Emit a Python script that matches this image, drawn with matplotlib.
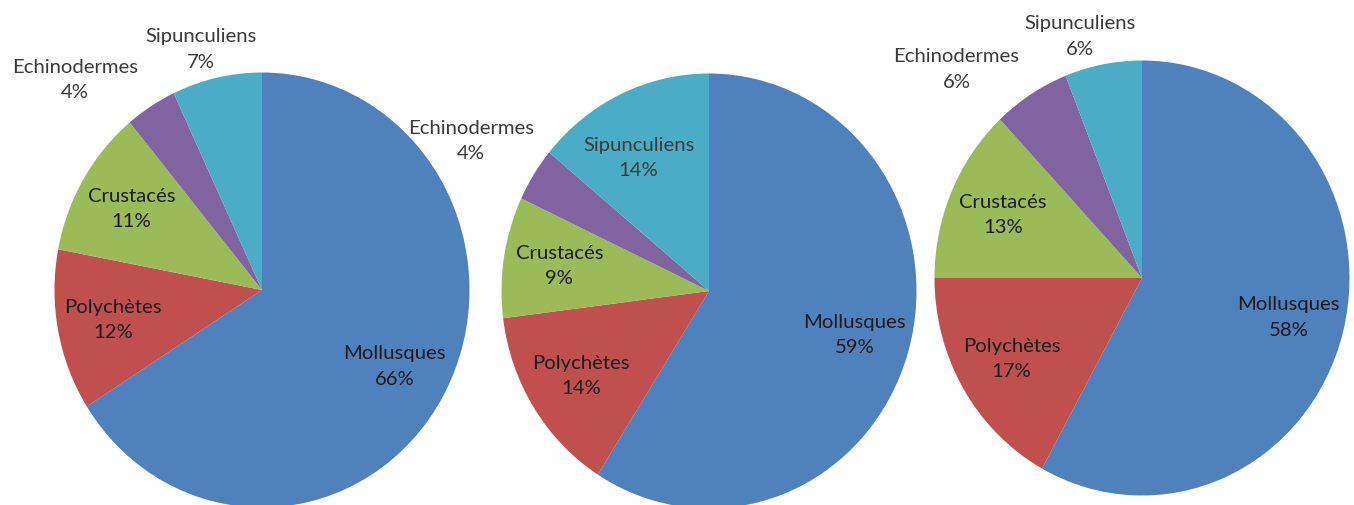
import numpy as np
import matplotlib.pyplot as plt

plt.rcParams['font.family'] = ['Lato', 'DejaVu Sans']

groups = ['Mollusques', 'Polychètes', 'Crustacés', 'Echinodermes', 'Sipunculiens']
colors = ['#4F81BD', '#C0504D', '#9BBB59', '#8064A2', '#4BACC6']

pie_a = [66, 12, 11, 4, 7]
pie_b = [59, 14, 9, 4, 14]
pie_c = [58, 17, 13, 6, 6]

W, H = 1354, 505
# pie boxes in pixels: centre x, centre y (from top), radius x, radius y
boxes = [(262, 290, 207.5, 217.5),
         (709, 291, 207.5, 217.5),
         (1142, 278, 207.5, 217.5)]

# label placement: (angle in degrees, distance from centre); None -> mid-angle at 0.73
spots = [
    [None, None, None, (133, 1.32), (105, 1.145)],
    [None, None, None, (149, 1.34), (119, 0.70)],
    [None, None, None, (133, 1.31), (105, 1.15)],
]

fig = plt.figure(figsize=(W / 100, H / 100), dpi=100)

for vals, (cx, cy, rx, ry), spot in zip([pie_a, pie_b, pie_c], boxes, spots):
    ax = fig.add_axes([(cx - rx) / W, (H - cy - ry) / H, 2 * rx / W, 2 * ry / H])
    ax.pie(vals, colors=colors, startangle=90, counterclock=False,
           wedgeprops=dict(linewidth=0))
    ax.set_aspect('auto')
    ax.set_xlim(-1, 1)
    ax.set_ylim(-1, 1)
    ax.axis('off')

    cum = np.cumsum([0] + vals[:-1])
    for i, v in enumerate(vals):
        if spot[i] is None:
            ang = 90 - (cum[i] + v / 2) * 3.6
            dist = 0.73
            col = '#1a1a1a'
        else:
            ang, dist = spot[i]
            col = '#3a3a3a'
        a = np.deg2rad(ang)
        ax.text(dist * np.cos(a), dist * np.sin(a), f'{groups[i]}\n{v}%',
                ha='center', va='center', fontsize=14.6, color=col,
                linespacing=1.6, clip_on=False)

fig.savefig('out.png', dpi=100)
